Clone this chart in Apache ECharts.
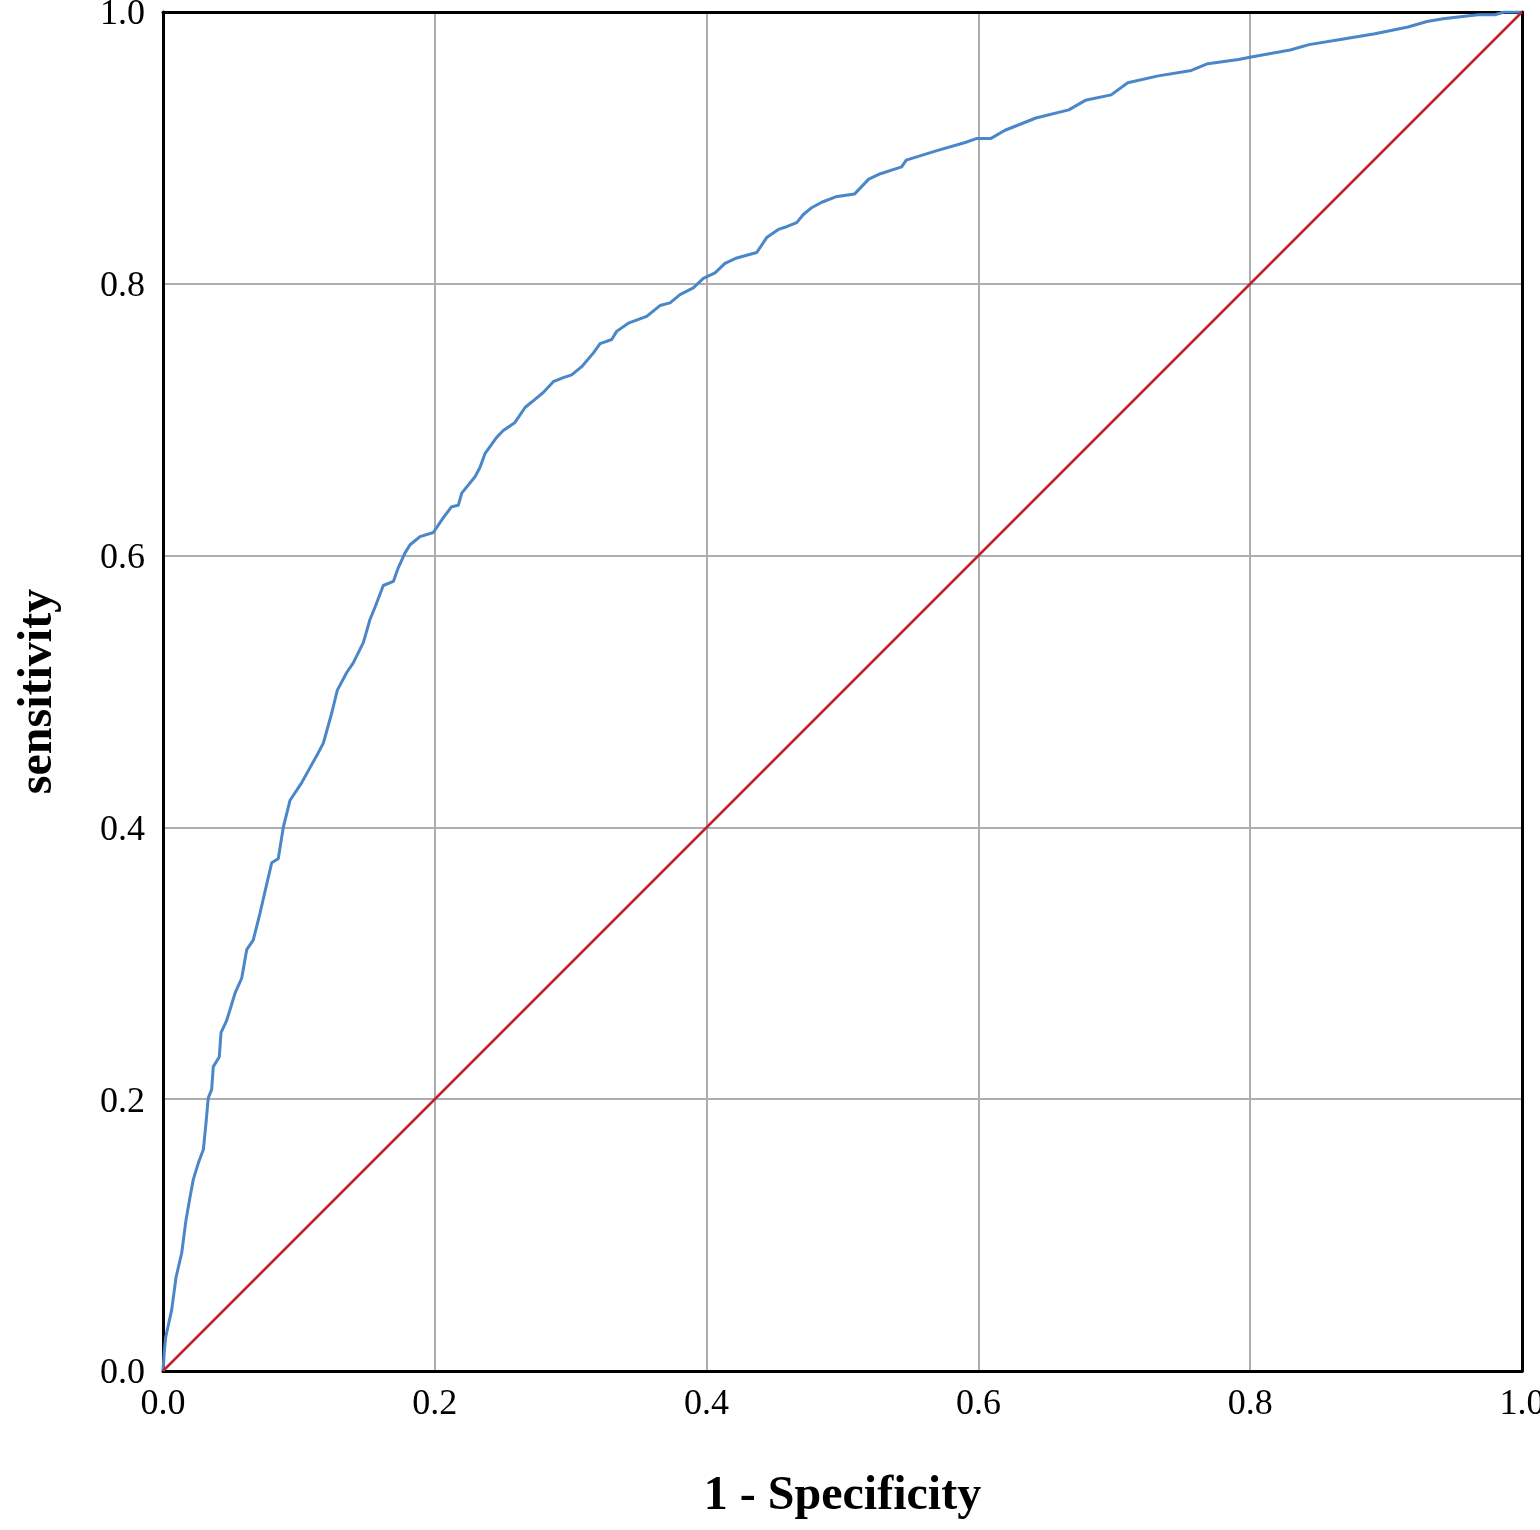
<!DOCTYPE html>
<html>
<head>
<meta charset="utf-8">
<script src="https://cdn.jsdelivr.net/npm/echarts@6/dist/echarts.min.js"></script>
<style>html,body{margin:0;padding:0;background:#fff}#c{width:1540px;height:1530px}</style>
</head>
<body>
<div id="c"></div>
<script>
const xTitle = '1 - Specificity';
const yTitle = 'sensitivity';
const tickValues = [0, 0.2, 0.4, 0.6, 0.8, 1.0];
const fpr = [0,0.001,0.002,0.0064,0.0096,0.0138,0.0169,0.0199,0.0223,0.026,0.0297,0.0316,0.0333,0.0358,0.037,0.0414,0.0427,0.0469,0.053,0.0579,0.0616,0.0664,0.0714,0.0758,0.08,0.0848,0.0885,0.0935,0.1021,0.1082,0.1143,0.118,0.1241,0.1283,0.1352,0.14,0.1474,0.1523,0.156,0.1621,0.1695,0.1731,0.1781,0.1818,0.1891,0.1989,0.2063,0.2124,0.2173,0.2198,0.2296,0.2333,0.2369,0.2455,0.2504,0.259,0.2664,0.2713,0.2798,0.2872,0.2946,0.3007,0.3081,0.3166,0.3216,0.3302,0.3338,0.3424,0.3559,0.3657,0.3731,0.3804,0.3902,0.3976,0.4062,0.4135,0.4222,0.4295,0.4369,0.4442,0.4528,0.4589,0.4663,0.4712,0.4773,0.4847,0.495,0.5088,0.5193,0.5279,0.5435,0.5469,0.5695,0.5903,0.599,0.6093,0.6196,0.6423,0.6665,0.6787,0.6977,0.7099,0.7324,0.7567,0.7688,0.7913,0.8017,0.8294,0.8433,0.8675,0.8918,0.9161,0.9301,0.9419,0.9676,0.9801,0.9868,1];
const tpr = [0,0.015,0.025,0.045,0.069,0.087,0.111,0.128,0.141,0.153,0.163,0.182,0.201,0.207,0.224,0.231,0.249,0.258,0.278,0.289,0.310,0.317,0.337,0.356,0.374,0.377,0.400,0.420,0.433,0.444,0.455,0.462,0.484,0.501,0.514,0.521,0.536,0.553,0.562,0.578,0.581,0.591,0.602,0.608,0.614,0.617,0.628,0.636,0.637,0.646,0.658,0.665,0.675,0.687,0.692,0.698,0.709,0.713,0.720,0.728,0.731,0.733,0.739,0.749,0.756,0.759,0.765,0.771,0.776,0.784,0.786,0.792,0.797,0.804,0.808,0.815,0.819,0.821,0.823,0.834,0.840,0.842,0.845,0.851,0.856,0.860,0.864,0.866,0.877,0.881,0.886,0.891,0.898,0.904,0.907,0.907,0.913,0.922,0.928,0.935,0.939,0.948,0.953,0.957,0.962,0.965,0.967,0.972,0.976,0.980,0.984,0.989,0.993,0.995,0.998,0.998,1,1];
const refX = [0, 1];
const refY = [0, 1];

const FONT = '"Liberation Serif", "Times New Roman", serif';
const chart = echarts.init(document.getElementById('c'), null, {renderer: 'canvas'});
const rocData = fpr.map((v, i) => [v, tpr[i]]);
const refData = refX.map((v, i) => [v, refY[i]]);
const lbl = {color: '#000', fontFamily: FONT, fontSize: 36, formatter: v => v.toFixed(1)};
chart.setOption({
  backgroundColor: '#fff',
  animation: false,
  grid: {left: 163, top: 12, right: 18, bottom: 159, show: false, containLabel: false, outerBoundsMode: 'none'},
  xAxis: [{
    type: 'value', min: 0, max: 1, interval: 0.2,
    name: xTitle, nameLocation: 'middle', nameGap: 102,
    nameTextStyle: {fontFamily: FONT, fontSize: 48, fontWeight: 'bold', color: '#000'},
    axisLine: {show: true, lineStyle: {color: '#000', width: 3}},
    axisTick: {show: false},
    axisLabel: Object.assign({margin: 16}, lbl),
    splitLine: {show: true, lineStyle: {color: '#adadad', width: 2}}
  }, {
    type: 'value', min: 0, max: 1, position: 'top',
    axisLine: {show: true, onZero: false, lineStyle: {color: '#000', width: 3}},
    axisTick: {show: false}, axisLabel: {show: false}, splitLine: {show: false}
  }],
  yAxis: [{
    type: 'value', min: 0, max: 1, interval: 0.2,
    name: yTitle, nameLocation: 'middle', nameGap: 100,
    nameTextStyle: {fontFamily: FONT, fontSize: 48, fontWeight: 'bold', color: '#000'},
    axisLine: {show: true, lineStyle: {color: '#000', width: 3}},
    axisTick: {show: false},
    axisLabel: {
      margin: 18, color: '#000', fontFamily: FONT, fontSize: 36,
      formatter: v => '{a|' + v.toFixed(1) + '}',
      rich: {a: {fontFamily: FONT, fontSize: 36, color: '#000', padding: [6, 0, 0, 0]}}
    },
    splitLine: {show: true, lineStyle: {color: '#adadad', width: 2}}
  }, {
    type: 'value', min: 0, max: 1, position: 'right',
    axisLine: {show: true, onZero: false, lineStyle: {color: '#000', width: 3}},
    axisTick: {show: false}, axisLabel: {show: false}, splitLine: {show: false}
  }],
  series: [{
    type: 'line', data: rocData, showSymbol: false, symbol: 'none',
    lineStyle: {color: '#4a86c8', width: 3}, z: 3
  }, {
    type: 'line', data: refData, showSymbol: false, symbol: 'none',
    lineStyle: {color: '#c0222e', width: 2.5}, z: 4
  }]
});
</script>
</body>
</html>
